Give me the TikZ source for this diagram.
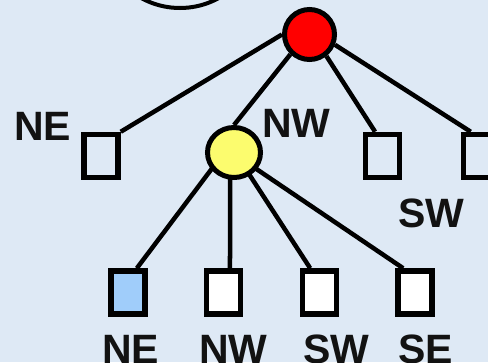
\documentclass[tikz,border=0pt]{standalone}
\usepackage{fontspec}
\setmainfont{Liberation Sans}
\usetikzlibrary{shapes.geometric}
\definecolor{bgc}{RGB}{222,233,245}
\definecolor{leafblue}{RGB}{160,205,250}
\definecolor{yelc}{RGB}{252,252,110}
\pgfdeclarelayer{back}
\pgfsetlayers{back,main}
\begin{document}
\begin{tikzpicture}[x=1pt,y=-1pt,
  conn/.style={line width=4.5pt},
  sq/.style={rectangle,draw,line width=5.5pt,minimum width=34pt,minimum height=43pt,inner sep=0pt},
  lbl/.style={font=\bfseries\fontsize{41}{41}\selectfont,anchor=base west,inner sep=0pt,text=black!93}]
\begin{pgfonlayer}{back}
\fill[bgc] (0,0) rectangle (488,362);
\end{pgfonlayer}
\useasboundingbox (0,0) rectangle (488,362);
\draw[line width=4pt] (180,-72) circle[radius=80pt];
% nodes
\node[circle,draw,line width=5pt,fill=red,minimum size=50pt,inner sep=0pt] (root) at (309.5,34.5) {};
\node[ellipse,draw,line width=5pt,fill=yelc,minimum width=53pt,minimum height=50pt,inner sep=0pt] (yel) at (234,152.5) {};
\node[sq] (s1) at (101,156) {};
\node[sq] (s3) at (382.5,156) {};
\node[sq] (s4) at (480.5,156) {};
\node[sq,fill=leafblue] (c1) at (128,292.5) {};
\node[sq,fill=white] (c2) at (223.5,292.5) {};
\node[sq,fill=white] (c3) at (319.5,292.5) {};
\node[sq,fill=white] (c4) at (415,292.5) {};
\coordinate (y1) at (224,152.5);
\coordinate (y2) at (230,152.5);
\coordinate (y3) at (235,152.5);
\coordinate (y4) at (232,152.5);
% connectors
\begin{pgfonlayer}{back}
\draw[conn] (root.180) -- (s1.north east);
\draw[conn] (root.226) -- (yel.north);
\draw[conn] (root.308) -- (s3.107);
\draw[conn] (root.338) -- (s4.112);
\draw[conn] (y1) -- (c1.70);
\draw[conn] (y2) -- (c2.75);
\draw[conn] (y3) -- (c3.111);
\draw[conn] (y4) -- (c4.116);
\end{pgfonlayer}
% labels
\node[lbl] (lne) at (14,140) {NE};
\node[lbl] (lnw) at (262,137) {NW};
\node[lbl] (lsw) at (398,227) {SW};
\node[lbl] (bne) at (102,363) {NE};
\node[lbl] (bnw) at (199,363) {NW};
\node[lbl] (bsw) at (303,363) {SW};
\node[lbl] (bse) at (398,363) {SE};
\end{tikzpicture}
\end{document}
